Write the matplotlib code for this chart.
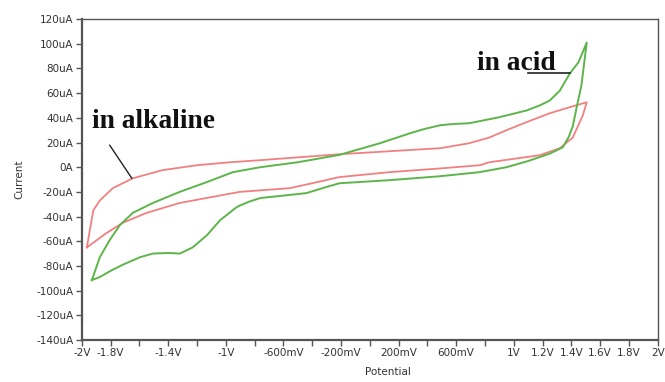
import numpy as np
import matplotlib
matplotlib.use('Agg')
import matplotlib.pyplot as plt

# acid (green) loop: forward sweep then return sweep
acid_v = [-1.93, -1.875, -1.80, -1.715, -1.597, -1.507, -1.40, -1.32, -1.23, -1.13,
          -1.04, -0.92, -0.84, -0.76, -0.60, -0.44, -0.30, -0.21, 0.0, 0.139, 0.49,
          0.764, 0.95, 1.10, 1.25, 1.34, 1.38, 1.41, 1.44, 1.47, 1.507,
          1.45, 1.39, 1.32, 1.25, 1.18, 1.09, 0.90, 0.69, 0.58, 0.49, 0.38, 0.28, 0.07,
          -0.21, -0.5, -0.76, -0.95, -1.13, -1.32, -1.507, -1.646, -1.736, -1.806,
          -1.875, -1.93]
acid_i = [-91.5, -89, -84, -79, -73, -70, -69.5, -70, -65, -55,
          -43, -32, -28, -25, -23, -21, -16, -13, -11.5, -10.5, -7.3,
          -4, 0, 5, 11, 16, 24, 33, 50, 66, 101,
          85, 76, 62, 54, 50, 46, 40.5, 35.6, 35, 34, 31, 27.5, 19.4,
          10, 4, 0, -4, -12, -20, -29, -37, -47, -59,
          -73, -91.5]

# alkaline (red) loop
alk_v = [-1.965, -1.944, -1.92, -1.875, -1.785, -1.646, -1.44, -1.20, -0.97, -0.76,
         -0.21, 0.26, 0.49, 0.69, 0.83, 0.95, 1.10, 1.25, 1.40, 1.507,
         1.48, 1.41, 1.32, 1.18, 0.83, 0.764, 0.49, 0.139, -0.21, -0.40, -0.556, -0.903,
         -1.09, -1.32, -1.55, -1.715, -1.83, -1.965]
alk_i = [-65, -51, -35, -27, -17, -9, -2.4, 1.6, 4, 5.7,
         10.5, 13.8, 15.4, 19.4, 24, 30, 37, 43.7, 49, 52.6,
         42, 24, 15.4, 9.7, 4, 1.6, -1, -4, -8, -13, -17, -20,
         -24, -29, -37, -45, -53.5, -65]

xticks = [-2, -1.8, -1.6, -1.4, -1.2, -1, -0.8, -0.6, -0.4, -0.2, 0, 0.2, 0.4, 0.6,
          0.8, 1, 1.2, 1.4, 1.6, 1.8, 2]
xlabels = ['-2V', '-1.8V', '', '-1.4V', '', '-1V', '', '-600mV', '', '-200mV', '',
           '200mV', '', '600mV', '', '1V', '1.2V', '1.4V', '1.6V', '1.8V', '2V']
yticks = list(range(120, -141, -20))
ylabels = ['%duA' % v if v != 0 else '0A' for v in yticks]

green = '#5db54a'
red = '#f28080'

fig = plt.figure(figsize=(6.65, 3.82), dpi=100)
ax = fig.add_axes([0.123, 0.110, 0.866, 0.840])

ax.plot(alk_v, alk_i, color=red, lw=1.3)
ax.plot(acid_v, acid_i, color=green, lw=1.4)

ax.set_xlim(-2, 2)
ax.set_ylim(-140, 120)
ax.set_xticks(xticks)
ax.set_xticklabels(xlabels)
ax.set_yticks(yticks)
ax.set_yticklabels(ylabels)
ax.tick_params(direction='out', length=4, width=1, color='#555555',
               labelsize=7.5, labelcolor='#333333', pad=2)
for side in ['left', 'bottom']:
    ax.spines[side].set_linewidth(1.6)
    ax.spines[side].set_color('#555555')
for side in ['top', 'right']:
    ax.spines[side].set_linewidth(1.0)
    ax.spines[side].set_color('#555555')

ax.set_xlabel('Potential', fontsize=7.5, color='#333333')
ax.xaxis.set_label_coords((388 - 82) / 576, -0.085)
ax.set_ylabel('Current', fontsize=7.5, color='#333333')
ax.yaxis.set_label_coords(-0.10, 0.5)

# small stray marks on the left edge
ax.plot([-2, -2], [-9, -5], color=red, lw=1.5, clip_on=False)
ax.plot([-2, -2], [-127, -123], color=green, lw=1.5, clip_on=False)

tfont = dict(family='Liberation Serif', weight='bold', size=19.8, color='#111111')
ax.text(-1.93, 32, 'in alkaline', ha='left', va='baseline', **tfont)
ax.plot([-1.806, -1.653], [17.8, -8.9], color='#222222', lw=1)
ax.text(0.743, 78.5, 'in acid', ha='left', va='baseline', **tfont)
ax.plot([1.097, 1.389], [76, 76], color='#222222', lw=1.2)

fig.savefig('out.png', dpi=100)
